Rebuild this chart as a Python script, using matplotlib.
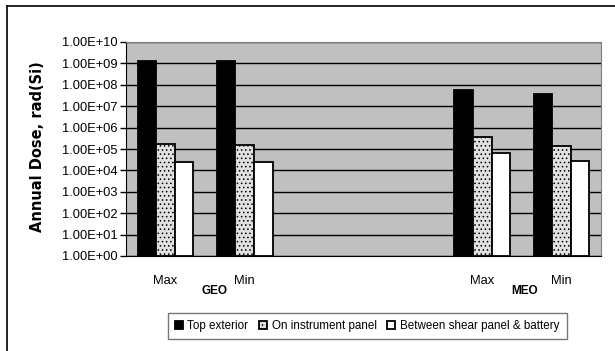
import numpy as np
import matplotlib
matplotlib.use("Agg")
import matplotlib.pyplot as plt
from matplotlib.patches import Patch
from matplotlib.lines import Line2D

# chart data (nan = empty category slot)
categories = ["Max", "Min", "", "", "Max", "Min"]
groups = ["GEO", "MEO"]
series = ["Top exterior", "On instrument panel", "Between shear panel & battery"]
top_exterior = [1.3e9, 1.3e9, np.nan, np.nan, 6.0e7, 3.8e7]
instrument_panel = [1.65e5, 1.6e5, np.nan, np.nan, 3.5e5, 1.35e5]
shear_panel = [2.5e4, 2.5e4, np.nan, np.nan, 6.8e4, 2.9e4]

plt.rcParams["font.family"] = ["Liberation Sans", "DejaVu Sans"]
plt.rcParams["hatch.color"] = "#b4b4b4"
plt.rcParams["hatch.linewidth"] = 0.6

fig = plt.figure(figsize=(6.15, 3.51), dpi=100)
ax = fig.add_axes([126 / 615, 1 - 256 / 351, 475 / 615, 214 / 351])
ax.set_facecolor("#c0c0c0")

x = np.arange(len(categories))
w = 0.235
styles = [
    dict(color="black", edgecolor="black"),
    dict(color="#e0e0e0", edgecolor="black", hatch="...."),
    dict(color="white", edgecolor="black"),
]
for i, vals in enumerate([top_exterior, instrument_panel, shear_panel]):
    ax.bar(x + (i - 1) * w, vals, w, bottom=1, linewidth=1.3, zorder=3, **styles[i])

ax.set_yscale("log")
ax.set_ylim(1, 1e10)
ax.set_xlim(-0.5, len(categories) - 0.5)
ticks = 10.0 ** np.arange(0, 11)
ax.set_yticks(ticks)
ax.set_yticklabels(["{:.2E}".format(t) for t in ticks], fontsize=9.3)
ax.minorticks_off()
ax.yaxis.grid(True, color="black", linewidth=1)
ax.set_axisbelow(True)
ax.tick_params(axis="y", length=4, width=1, pad=2)
ax.set_xticks(x)
ax.set_xticklabels(categories, fontsize=9.3)
ax.tick_params(axis="x", length=0, pad=14)

for s in ["top", "right"]:
    ax.spines[s].set_color("#808080")
for s in ["left", "bottom"]:
    ax.spines[s].set_color("black")

ax.text(0.62, -0.165, groups[0], transform=ax.get_xaxis_transform(),
        ha="center", va="center", fontsize=8.5, fontweight="bold")
ax.text(4.54, -0.165, groups[1], transform=ax.get_xaxis_transform(),
        ha="center", va="center", fontsize=8.5, fontweight="bold")

fig.text(38 / 615, 1 - 147 / 351, "Annual Dose, rad(Si)", rotation=90,
         ha="center", va="center", fontsize=10.5, fontweight="heavy",
         family="DejaVu Sans")

handles = [Patch(facecolor=styles[i]["color"], edgecolor="black",
                 hatch=styles[i].get("hatch"), linewidth=1.3) for i in range(3)]
leg = fig.legend(handles, series, loc="center",
                 bbox_to_anchor=(367 / 615, 1 - 326 / 351), ncol=3,
                 fontsize=8.4, frameon=True, fancybox=False, borderpad=0.6,
                 handlelength=0.7, handleheight=0.7, handletextpad=0.4,
                 columnspacing=0.9)
leg.get_frame().set_edgecolor("#555555")
leg.get_frame().set_linewidth(1)

# outer chart frame (left and top edges visible)
fig.add_artist(Line2D([7 / 615, 7 / 615], [0, 1 - 6 / 351], color="black", linewidth=1.2))
fig.add_artist(Line2D([7 / 615, 1], [1 - 6 / 351, 1 - 6 / 351], color="black", linewidth=1.2))

fig.savefig("out.png", dpi=100)
